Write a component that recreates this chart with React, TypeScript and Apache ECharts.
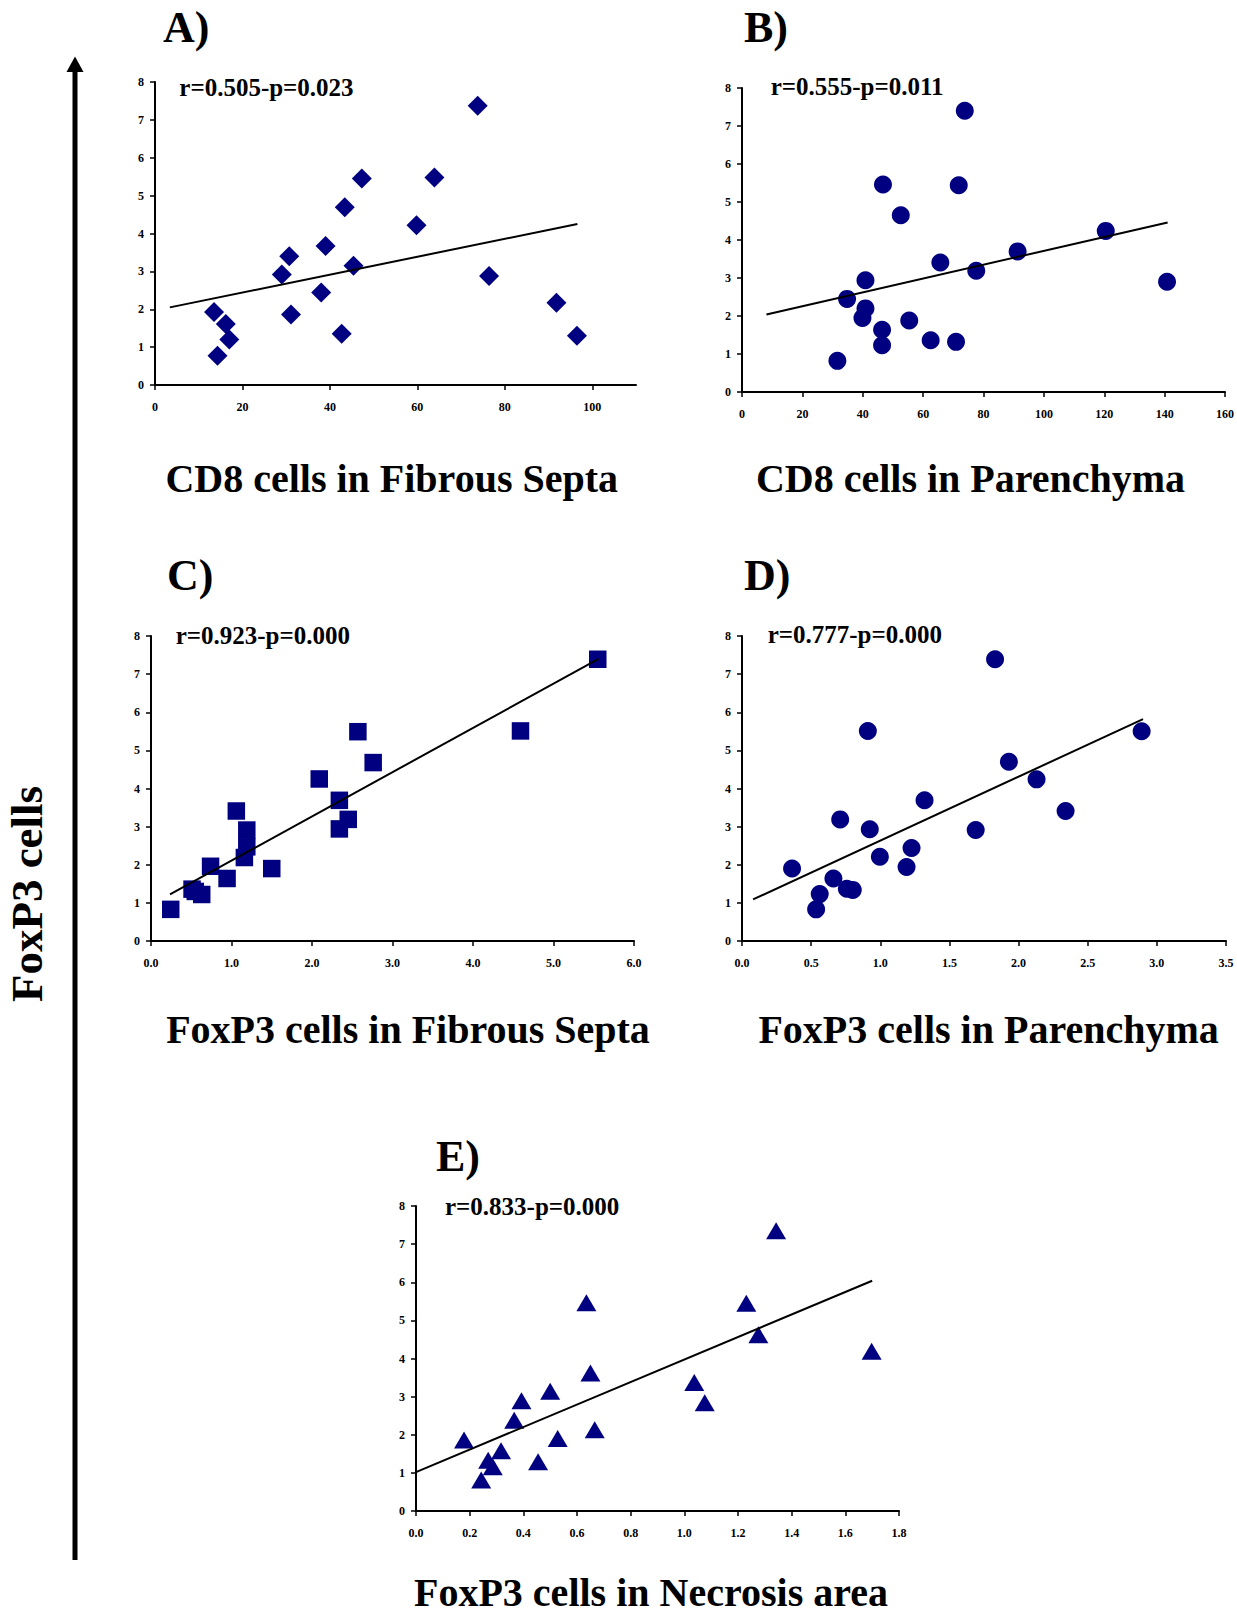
import React, { useEffect, useRef } from "react";
import * as echarts from "echarts";

// ---------- DATA ----------
const yTickValues = [0, 1, 2, 3, 4, 5, 6, 7, 8];

// A) CD8 cells in Fibrous Septa
const cd8SeptaX = [13.5, 16.2, 17.0, 14.3, 29.0, 30.7, 31.1, 38.0, 39.0, 42.7, 43.4, 45.4, 47.3, 59.8, 63.9, 73.8, 76.4, 91.8, 96.5];
const cd8SeptaY = [1.93, 1.61, 1.2, 0.77, 2.92, 3.4, 1.86, 2.44, 3.67, 1.35, 4.69, 3.15, 5.45, 4.22, 5.48, 7.37, 2.88, 2.17, 1.3];
const cd8SeptaTrend = [[3.4, 2.05], [96.6, 4.25]];
const cd8SeptaXTicks = [0, 20, 40, 60, 80, 100];

// B) CD8 cells in Parenchyma
const cd8ParX = [31.6, 34.8, 40.9, 40.9, 39.9, 46.4, 46.4, 46.7, 52.6, 55.4, 62.5, 65.7, 70.9, 71.8, 73.8, 77.6, 91.3, 120.5, 140.8];
const cd8ParY = [0.82, 2.45, 2.94, 2.2, 1.95, 1.64, 1.23, 5.46, 4.65, 1.88, 1.36, 3.41, 1.32, 5.44, 7.4, 3.19, 3.7, 4.24, 2.9];
const cd8ParTrend = [[8.1, 2.04], [141, 4.46]];

// C) FoxP3 cells in Fibrous Septa
const foxSeptaX = [0.245, 0.51, 0.55, 0.63, 0.74, 0.945, 1.06, 1.19, 1.19, 1.16, 1.5, 2.09, 2.34, 2.34, 2.45, 2.57, 2.76, 4.59, 5.55];
const foxSeptaY = [0.83, 1.36, 1.3, 1.22, 1.96, 1.64, 3.41, 2.91, 2.47, 2.19, 1.9, 4.25, 3.69, 2.94, 3.19, 5.49, 4.68, 5.51, 7.39];
const foxSeptaTrend = [[0.236, 1.22], [5.56, 7.4]];

// D) FoxP3 cells in Parenchyma
const foxParX = [0.362, 0.536, 0.562, 0.661, 0.71, 0.758, 0.801, 0.91, 0.924, 0.997, 1.19, 1.226, 1.32, 1.69, 1.83, 1.93, 2.13, 2.34, 2.89];
const foxParY = [1.9, 0.83, 1.23, 1.64, 3.19, 1.37, 1.34, 5.51, 2.93, 2.21, 1.94, 2.44, 3.69, 2.91, 7.39, 4.7, 4.24, 3.41, 5.5];
const foxParTrend = [[0.08, 1.09], [2.9, 5.82]];

// E) FoxP3 cells in Necrosis area
const foxNecX = [0.179, 0.243, 0.269, 0.286, 0.317, 0.366, 0.393, 0.455, 0.5, 0.528, 0.635, 0.65, 0.666, 1.037, 1.076, 1.231, 1.276, 1.342, 1.698];
const foxNecY = [1.86, 0.81, 1.33, 1.16, 1.58, 2.38, 2.89, 1.29, 3.14, 1.9, 5.46, 3.62, 2.13, 3.37, 2.84, 5.45, 4.62, 7.35, 4.19];
const foxNecTrend = [[0, 1.02], [1.7, 6.04]];

const panelLetters = ["A)", "B)", "C)", "D)", "E)"];
const statTexts = ["r=0.505-p=0.023", "r=0.555-p=0.011", "r=0.923-p=0.000", "r=0.777-p=0.000", "r=0.833-p=0.000"];
const xTitles = [
  "CD8 cells in Fibrous Septa",
  "CD8 cells in Parenchyma",
  "FoxP3 cells in Fibrous Septa",
  "FoxP3 cells in Parenchyma",
  "FoxP3 cells in Necrosis area",
];
const yTitle = "FoxP3 cells";

// ---------- LAYOUT / STYLE ----------
const FONT = '"Liberation Serif", "Times New Roman", Times, serif';
const NAVY = "#000080";

const panels = [
  { xs: cd8SeptaX, ys: cd8SeptaY, trend: cd8SeptaTrend, symbol: "diamond", size: 20, grid: { left: 155, top: 82, width: 481, height: 303 }, xMin: 0, xMax: 110, xInterval: 20, xCustom: cd8SeptaXTicks, dec: 0,
    letter: { x: 163, b: 42.7 }, stat: { x: 179.3, b: 95.7 }, title: { x: 391.7, b: 492.3 } },
  { xs: cd8ParX, ys: cd8ParY, trend: cd8ParTrend, symbol: "circle", size: 18, grid: { left: 742, top: 88, width: 483, height: 304 }, xMin: 0, xMax: 160, xInterval: 20, dec: 0,
    letter: { x: 744, b: 42.7 }, stat: { x: 770.7, b: 95 }, title: { x: 970.5, b: 491.7 } },
  { xs: foxSeptaX, ys: foxSeptaY, trend: foxSeptaTrend, symbol: "rect", size: 17.5, grid: { left: 151, top: 636, width: 483, height: 305 }, xMin: 0, xMax: 6, xInterval: 1, dec: 1,
    letter: { x: 167, b: 590 }, stat: { x: 175.7, b: 644.3 }, title: { x: 408, b: 1043 } },
  { xs: foxParX, ys: foxParY, trend: foxParTrend, symbol: "circle", size: 18, grid: { left: 742, top: 636, width: 484, height: 305 }, xMin: 0, xMax: 3.5, xInterval: 0.5, dec: 1,
    letter: { x: 744, b: 590 }, stat: { x: 767.7, b: 643.3 }, title: { x: 988.6, b: 1043 } },
  { xs: foxNecX, ys: foxNecY, trend: foxNecTrend, symbol: "triangle", size: [20, 17], grid: { left: 416, top: 1206, width: 483, height: 305 }, xMin: 0, xMax: 1.8, xInterval: 0.2, dec: 1,
    letter: { x: 436, b: 1171 }, stat: { x: 445, b: 1214.5 }, title: { x: 651, b: 1606 } },
];

// baseline -> central y (verticalAlign middle)
const cy = (baseline: number, fs: number) => baseline - 0.3375 * fs;

export default function App() {
  const ref = useRef<HTMLDivElement>(null);

  useEffect(() => {
    if (!ref.current) return;
    const chart = echarts.init(ref.current, null, { renderer: "svg", width: 1237, height: 1617 });

    const axisCommon = {
      axisLine: { show: true, onZero: false, lineStyle: { color: "#000", width: 2 } },
      axisTick: { show: true, inside: false, length: 5, lineStyle: { color: "#000", width: 1.5 } },
      splitLine: { show: false },
    };

    const grids = panels.map((p) => ({ ...p.grid, containLabel: false, outerBoundsMode: "none", show: false }));

    const xAxes = panels.map((p, i) => ({
      type: "value",
      gridIndex: i,
      min: p.xMin,
      max: p.xMax,
      interval: p.xInterval,
      ...axisCommon,
      axisTick: p.xCustom
        ? { ...axisCommon.axisTick, customValues: p.xCustom }
        : axisCommon.axisTick,
      axisLabel: {
        show: true,
        margin: 16,
        color: "#000",
        fontFamily: FONT,
        fontWeight: "bold",
        fontSize: 12,
        showMaxLabel: true,
        ...(p.xCustom ? { customValues: p.xCustom } : {}),
        formatter: (v: number) => v.toFixed(p.dec),
      },
    }));

    const yAxes = panels.map((p, i) => ({
      type: "value",
      gridIndex: i,
      min: 0,
      max: 8,
      interval: 1,
      ...axisCommon,
      axisLabel: {
        show: true,
        margin: 11,
        color: "#000",
        fontFamily: FONT,
        fontWeight: "bold",
        fontSize: 12,
        customValues: yTickValues,
        formatter: (v: number) => String(v),
      },
    }));

    const series: any[] = [];
    panels.forEach((p, i) => {
      series.push({
        type: "scatter",
        xAxisIndex: i,
        yAxisIndex: i,
        symbol: p.symbol,
        symbolSize: p.size,
        itemStyle: { color: NAVY, opacity: 1 },
        data: p.xs.map((x, k) => [x, p.ys[k]]),
        z: 3,
      });
      series.push({
        type: "line",
        xAxisIndex: i,
        yAxisIndex: i,
        symbol: "none",
        lineStyle: { color: "#000", width: 2 },
        data: p.trend,
        z: 4,
      });
    });

    const graphics: any[] = [];
    panels.forEach((p, i) => {
      graphics.push({
        type: "text",
        style: { text: panelLetters[i], x: p.letter.x, y: cy(p.letter.b, 44), font: `bold 44px ${FONT}`, fill: "#000", align: "left", verticalAlign: "middle" },
      });
      graphics.push({
        type: "text",
        style: { text: statTexts[i], x: p.stat.x, y: cy(p.stat.b, 25), font: `bold 25px ${FONT}`, fill: "#000", align: "left", verticalAlign: "middle" },
      });
      graphics.push({
        type: "text",
        style: { text: xTitles[i], x: p.title.x, y: cy(p.title.b, 40), font: `bold 40px ${FONT}`, fill: "#000", align: "center", verticalAlign: "middle" },
      });
    });
    // big vertical arrow
    graphics.push({
      type: "line",
      shape: { x1: 75, y1: 1560, x2: 75, y2: 70 },
      style: { stroke: "#000", lineWidth: 5 },
    });
    graphics.push({
      type: "polygon",
      shape: { points: [[75, 56.5], [66.5, 72], [83.5, 72]] },
      style: { fill: "#000" },
    });
    graphics.push({
      type: "text",
      x: 41.7 - 0.3375 * 45,
      y: 894,
      rotation: Math.PI / 2,
      style: { text: yTitle, x: 0, y: 0, font: `bold 45px ${FONT}`, fill: "#000", align: "center", verticalAlign: "middle" },
    });

    chart.setOption({
      animation: false,
      backgroundColor: "#fff",
      grid: grids,
      xAxis: xAxes,
      yAxis: yAxes,
      series,
      graphic: graphics,
    });

    return () => chart.dispose();
  }, []);

  return (
    <div
      ref={ref}
      style={{ position: "absolute", left: 0, top: 0, width: 1237, height: 1617, background: "#fff" }}
    />
  );
}
